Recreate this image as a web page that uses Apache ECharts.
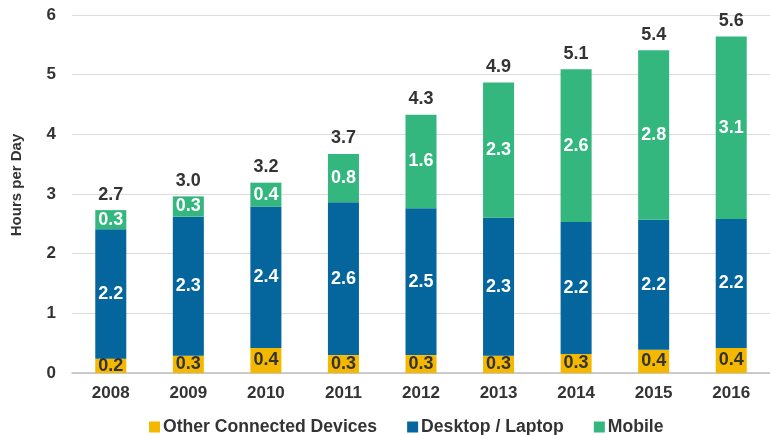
<!DOCTYPE html>
<html><head><meta charset="utf-8">
<script src="https://cdn.jsdelivr.net/npm/echarts@6/dist/echarts.min.js"></script>
<style>html,body{margin:0;padding:0;background:#fff}#c{width:770px;height:435px}</style>
</head><body><div id="c"></div>
<script>
var years = ['2008','2009','2010','2011','2012','2013','2014','2015','2016'];
var other = [0.24, 0.29, 0.42, 0.30, 0.30, 0.29, 0.32, 0.39, 0.42];
var desktop = [2.17, 2.33, 2.37, 2.56, 2.46, 2.31, 2.21, 2.18, 2.16];
var mobile = [0.32, 0.34, 0.40, 0.81, 1.57, 2.27, 2.56, 2.84, 3.06];
var seriesNames = ['Other Connected Devices', 'Desktop / Laptop', 'Mobile'];
var yTicks = [0, 1, 2, 3, 4, 5, 6];

var totals = years.map(function(_, i){ return other[i] + desktop[i] + mobile[i]; });
var FONT = '"Liberation Sans", Arial, Helvetica, sans-serif';
var fmt = function(p){ return (Math.round(p.value * 10) / 10).toFixed(1); };

var chart = echarts.init(document.getElementById('c'));
chart.setOption({
  animation: false,
  textStyle: { fontFamily: FONT },
  grid: { left: 72, top: 15, width: 702, bottom: 62 },
  legend: {
    data: seriesNames, top: 413, left: 144,
    itemWidth: 11, itemHeight: 11, itemGap: 30, icon: 'rect',
    textStyle: { fontFamily: FONT, fontSize: 17.6, fontWeight: 'bold', color: '#333', padding: [0,0,0,-2] }
  },
  xAxis: {
    type: 'category', data: years,
    axisLine: { lineStyle: { color: '#bfbfbf', width: 1.5 } },
    axisTick: { show: false },
    axisLabel: { fontFamily: FONT, fontSize: 17, fontWeight: 'bold', color: '#333', margin: 12 }
  },
  yAxis: {
    type: 'value', min: yTicks[0], max: yTicks[yTicks.length - 1], interval: 1,
    name: 'Hours per Day', nameLocation: 'middle', nameGap: 48,
    nameTextStyle: { fontFamily: FONT, fontSize: 15, fontWeight: 'bold', color: '#333', padding: [0, 0, 0, 18] },
    axisLine: { show: false }, axisTick: { show: false },
    axisLabel: { fontFamily: FONT, fontSize: 17, fontWeight: 'bold', color: '#333', margin: 16 },
    splitLine: { lineStyle: { color: '#dcdcdc', width: 1 } }
  },
  series: [
    { name: seriesNames[0], type: 'bar', stack: 't', data: other, barCategoryGap: '60%',
      itemStyle: { color: '#F5B800' },
      label: { show: true, position: 'inside', formatter: fmt, fontFamily: FONT, fontSize: 18, fontWeight: 'bold', color: '#333' } },
    { name: seriesNames[1], type: 'bar', stack: 't', data: desktop,
      itemStyle: { color: '#04669C' },
      label: { show: true, position: 'inside', formatter: fmt, fontFamily: FONT, fontSize: 18, fontWeight: 'bold', color: '#fff' } },
    { name: seriesNames[2], type: 'bar', stack: 't', data: mobile,
      itemStyle: { color: '#33B77F' },
      label: { show: true, position: 'inside', formatter: fmt, fontFamily: FONT, fontSize: 18, fontWeight: 'bold', color: '#fff' } },
    { name: 'Total', type: 'line', data: totals, symbol: 'circle', symbolSize: 1, showSymbol: true, silent: true,
      lineStyle: { opacity: 0 }, itemStyle: { color: 'rgba(0,0,0,0)' },
      label: { show: true, position: 'top', distance: 6, formatter: fmt, fontFamily: FONT, fontSize: 18, fontWeight: 'bold', color: '#333' } }
  ]
});
</script></body></html>
